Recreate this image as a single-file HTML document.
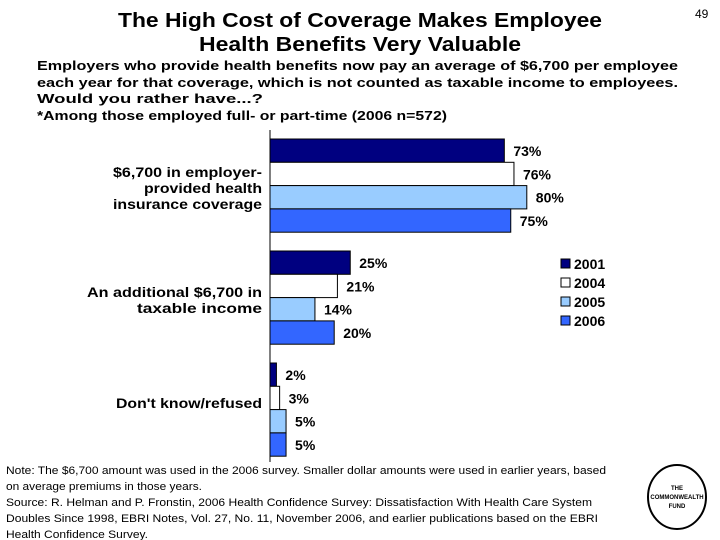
<!DOCTYPE html>
<html><head><meta charset="utf-8"><style>
html,body{margin:0;padding:0;background:#fff;}
svg{display:block;font-family:"Liberation Sans",Arial,sans-serif;}
</style></head><body>
<svg id="chart" width="720" height="540" viewBox="0 0 720 540" xmlns="http://www.w3.org/2000/svg">
<text x="695" y="18" font-size="12" fill="#000">49</text>
<g font-weight="bold" font-size="20" text-anchor="middle">
<text x="360" y="27" textLength="484" lengthAdjust="spacingAndGlyphs">The High Cost of Coverage Makes Employee</text>
<text x="360" y="51" textLength="322" lengthAdjust="spacingAndGlyphs">Health Benefits Very Valuable</text>
</g>
<g font-weight="bold" font-size="13">
<text x="37" y="70" textLength="641" lengthAdjust="spacingAndGlyphs">Employers who provide health benefits now pay an average of $6,700 per employee</text>
<text x="37" y="87" textLength="641" lengthAdjust="spacingAndGlyphs">each year for that coverage, which is not counted as taxable income to employees.</text>
<text x="37" y="103" textLength="226" lengthAdjust="spacingAndGlyphs">Would you rather have...?</text>
<text x="37" y="120" textLength="410" lengthAdjust="spacingAndGlyphs">*Among those employed full- or part-time (2006 n=572)</text>
</g>
<g id="bars"></g>
<g font-weight="bold" font-size="14" text-anchor="end">
<text x="262" y="177" textLength="149" lengthAdjust="spacingAndGlyphs">$6,700 in employer-</text>
<text x="262" y="193" textLength="118" lengthAdjust="spacingAndGlyphs">provided health</text>
<text x="262" y="209" textLength="149" lengthAdjust="spacingAndGlyphs">insurance coverage</text>
<text x="262" y="297" textLength="175" lengthAdjust="spacingAndGlyphs">An additional $6,700 in</text>
<text x="262" y="313" textLength="125" lengthAdjust="spacingAndGlyphs">taxable income</text>
<text x="262" y="408" textLength="146" lengthAdjust="spacingAndGlyphs">Don't know/refused</text>
</g>
<g id="legend"></g>
<g font-size="11" fill="#000">
<text x="6" y="474" textLength="600" lengthAdjust="spacingAndGlyphs">Note: The $6,700 amount was used in the 2006 survey. Smaller dollar amounts were used in earlier years, based</text>
<text x="6" y="490" textLength="196" lengthAdjust="spacingAndGlyphs">on average premiums in those years.</text>
<text x="6" y="506" textLength="586" lengthAdjust="spacingAndGlyphs">Source: R. Helman and P. Fronstin, 2006 Health Confidence Survey: Dissatisfaction With Health Care System</text>
<text x="6" y="522" textLength="592" lengthAdjust="spacingAndGlyphs">Doubles Since 1998, EBRI Notes, Vol. 27, No. 11, November 2006, and earlier publications based on the EBRI</text>
<text x="6" y="538" textLength="142" lengthAdjust="spacingAndGlyphs">Health Confidence Survey.</text>
</g>
<g>
<ellipse cx="677" cy="497" rx="29" ry="32" fill="#fff" stroke="#000" stroke-width="2"/>
<text x="677" y="490" font-size="6" text-anchor="middle" font-weight="bold">THE</text>
<text x="677" y="499" font-size="6" text-anchor="middle" font-weight="bold">COMMONWEALTH</text>
<text x="677" y="508" font-size="6" text-anchor="middle" font-weight="bold">FUND</text>
</g>
</svg>
<script>
const categories = ["$6,700 in employer-provided health insurance coverage","An additional $6,700 in taxable income","Don't know/refused"];
const seriesNames = ["2001","2004","2005","2006"];
const values2001 = [73, 25, 2];
const values2004 = [76, 21, 3];
const values2005 = [80, 14, 5];
const values2006 = [75, 20, 5];
const series = [values2001, values2004, values2005, values2006];
const colors = ["#000080","#ffffff","#99ccff","#3366ff"];
const NS = "http://www.w3.org/2000/svg";
const x0 = 270, pxPer = 3.21;
const xScale = v => x0 + v * pxPer;
const groupTop = i => 139 + i * 112;
const barH = 23.3;
const g = document.getElementById('bars');
categories.forEach((c, ci) => {
  series.forEach((s, si) => {
    const y = groupTop(ci) + si * barH;
    const r = document.createElementNS(NS, 'rect');
    
    
    r.setAttribute('x', x0); r.setAttribute('y', y);
    r.setAttribute('width', xScale(s[ci]) - x0); r.setAttribute('height', barH);
    r.setAttribute('fill', colors[si]); r.setAttribute('stroke', '#000'); r.setAttribute('stroke-width', '1');
    g.appendChild(r);
    const t = document.createElementNS(NS, 'text');
    
    
    t.setAttribute('x', xScale(s[ci]) + 9); t.setAttribute('y', y + 17);
    t.setAttribute('font-size', '14'); t.setAttribute('font-weight', 'bold');
    t.textContent = s[ci] + '%';
    g.appendChild(t);
  });
});
const ax = document.createElementNS(NS, 'line');


ax.setAttribute('x1', x0); ax.setAttribute('x2', x0); ax.setAttribute('y1', 130); ax.setAttribute('y2', 462);
ax.setAttribute('stroke', '#000');
g.appendChild(ax);
const lg = document.getElementById('legend');
seriesNames.forEach((n, i) => {
  const y = 259 + i * 19;
  const r = document.createElementNS(NS, 'rect');
  
  
  r.setAttribute('x', 561); r.setAttribute('y', y); r.setAttribute('width', 9); r.setAttribute('height', 9);
  r.setAttribute('fill', colors[i]); r.setAttribute('stroke', '#000');
  lg.appendChild(r);
  const t = document.createElementNS(NS, 'text');
  
  
  t.setAttribute('x', 574); t.setAttribute('y', y + 10);
  t.setAttribute('font-size', '14'); t.setAttribute('font-weight', 'bold');
  t.textContent = n;
  lg.appendChild(t);
});
</script>
</body></html>
